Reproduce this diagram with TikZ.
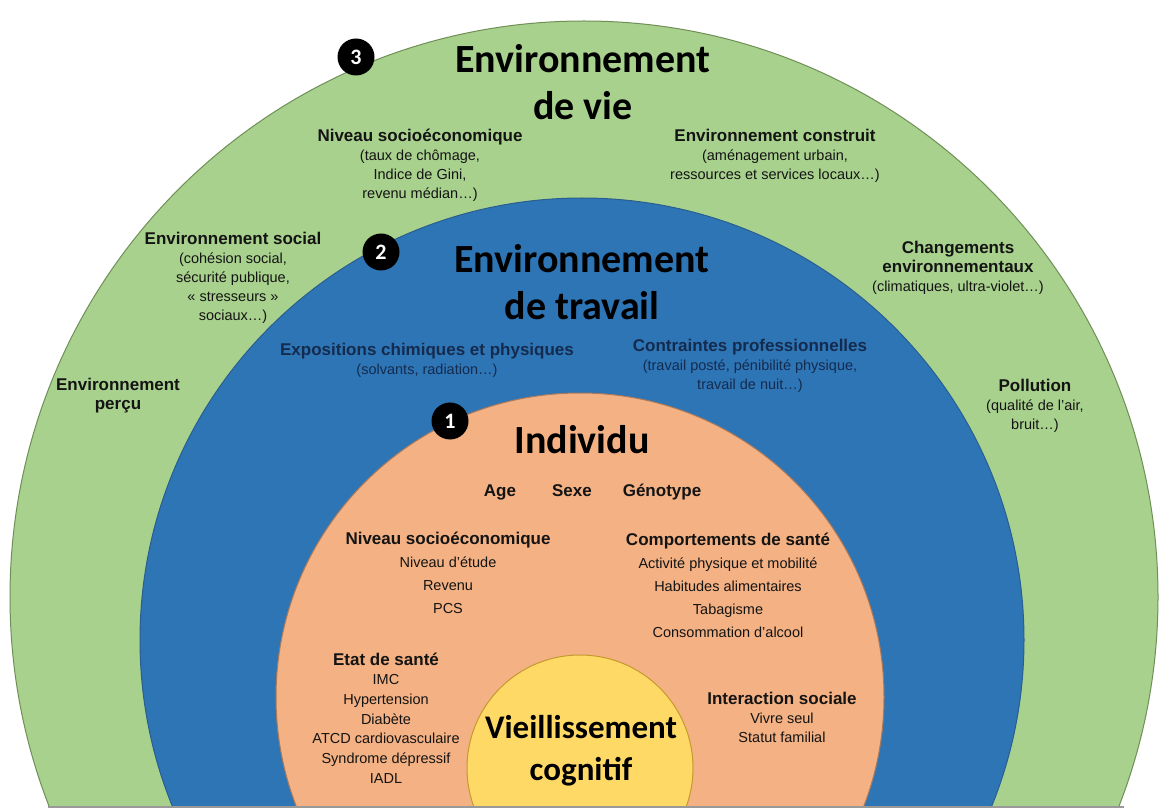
\documentclass[tikz,border=0pt]{standalone}
\usepackage{fontspec}
\setmainfont{Liberation Sans}
\newfontfamily\titlefont{Carlito}
\definecolor{cgreen}{HTML}{A9D18E}
\definecolor{cgreenline}{HTML}{6F8F57}
\definecolor{cblue}{HTML}{2E75B6}
\definecolor{cblueline}{HTML}{2A5E8E}
\definecolor{corange}{HTML}{F4B183}
\definecolor{corangeline}{HTML}{A8795A}
\definecolor{cyellow}{HTML}{FFD966}
\definecolor{cyellowline}{HTML}{C49A2E}
\definecolor{navy}{HTML}{142B4E}
\definecolor{ink}{HTML}{141414}
\tikzset{
  title/.style={font=\titlefont\bfseries\fontsize{40}{47}\selectfont, align=center, text=black, inner sep=0pt},
  ctitle/.style={font=\titlefont\bfseries\fontsize{33}{42}\selectfont, align=center, text=black, inner sep=0pt},
  badge/.style={circle, fill=black, text=white, minimum size=37pt, inner sep=0pt, font=\titlefont\bfseries\fontsize{22}{22}\selectfont},
  lbl/.style={align=center, inner sep=0pt, text=ink, font=\fontsize{14.5}{19}\selectfont},
  lblw/.style={align=center, inner sep=0pt, text=ink, font=\fontsize{14.5}{23}\selectfont},
  ring/.style={line width=1pt}
}
\newcommand{\hdr}[1]{{\bfseries\fontsize{17}{20}\selectfont #1}}
\begin{document}
\begin{tikzpicture}[x=1pt,y=-1pt]
\useasboundingbox[fill=white] (0,0) rectangle (1160,810);
\begin{scope}
\clip (0,0) rectangle (1160,806);
\draw[ring, fill=cgreen, draw=cgreenline] (584,597) ellipse [x radius=574pt, y radius=576pt];
\draw[ring, fill=cblue, draw=cblueline] (582,640) circle [radius=442pt];
\draw[ring, fill=corange, draw=corangeline] (580,697) circle [radius=304pt];
\draw[ring, fill=cyellow, draw=cyellowline] (580,768) circle [radius=113pt];
\end{scope}
\draw[line width=2pt, draw=gray!80] (48,807) -- (1124,807);

% titles
\node[title] (tvie) at (583,82) {Environnement\\de vie};
\node[title] (ttrav) at (582,282) {Environnement\\de travail};
\node[title] (tind) at (582,440) {Individu};
\node[ctitle] (tvc) at (581,751) {Vieillissement\\cognitif};

% badges
\node[badge] (b3) at (356,57) {3};
\node[badge] (b2) at (381,252) {2};
\node[badge] (b1) at (450,421) {1};

% green ring
\node[lbl] (nse) at (420,165) {\hdr{Niveau socioéconomique}\\(taux de chômage,\\Indice de Gini,\\revenu médian…)};
\node[lbl] (ec) at (775,156) {\hdr{Environnement construit}\\(aménagement urbain,\\ressources et services locaux…)};
\node[lbl] (es) at (233,278) {\hdr{Environnement social}\\(cohésion social,\\sécurité publique,\\« stresseurs »\\sociaux…)};
\node[lbl] (ce) at (958,268) {\hdr{Changements}\\\hdr{environnementaux}\\(climatiques, ultra-violet…)};
\node[lbl] (ep) at (118,396) {\hdr{Environnement}\\\hdr{perçu}};
\node[lbl] (po) at (1035,406) {\hdr{Pollution}\\(qualité de l'air,\\bruit…)};

% blue ring
\node[lbl, text=navy] (ex) at (427,360) {\hdr{Expositions chimiques et physiques}\\(solvants, radiation…)};
\node[lbl, text=navy] (cp) at (750,366) {\hdr{Contraintes professionnelles}\\(travail posté, pénibilité physique,\\travail de nuit…)};

% orange
\node[lbl, anchor=base] (age) at (500,496) {\hdr{Age}};
\node[lbl, anchor=base] (sexe) at (572,496) {\hdr{Sexe}};
\node[lbl, anchor=base] (geno) at (662,496) {\hdr{Génotype}};
\node[lblw] (nsi) at (448,573) {\hdr{Niveau socioéconomique}\\Niveau d'étude\\Revenu\\PCS};
\node[lblw] (cs) at (728,585) {\hdr{Comportements de santé}\\Activité physique et mobilité\\Habitudes alimentaires\\Tabagisme\\Consommation d'alcool};
\node[lbl, font=\fontsize{14.5}{19.7}\selectfont] (eds) at (386,718) {\hdr{Etat de santé}\\IMC\\Hypertension\\Diabète\\ATCD cardiovasculaire\\Syndrome dépressif\\IADL};
\node[lbl] (is) at (782,717) {\hdr{Interaction sociale}\\Vivre seul\\Statut familial};
\end{tikzpicture}
\end{document}
